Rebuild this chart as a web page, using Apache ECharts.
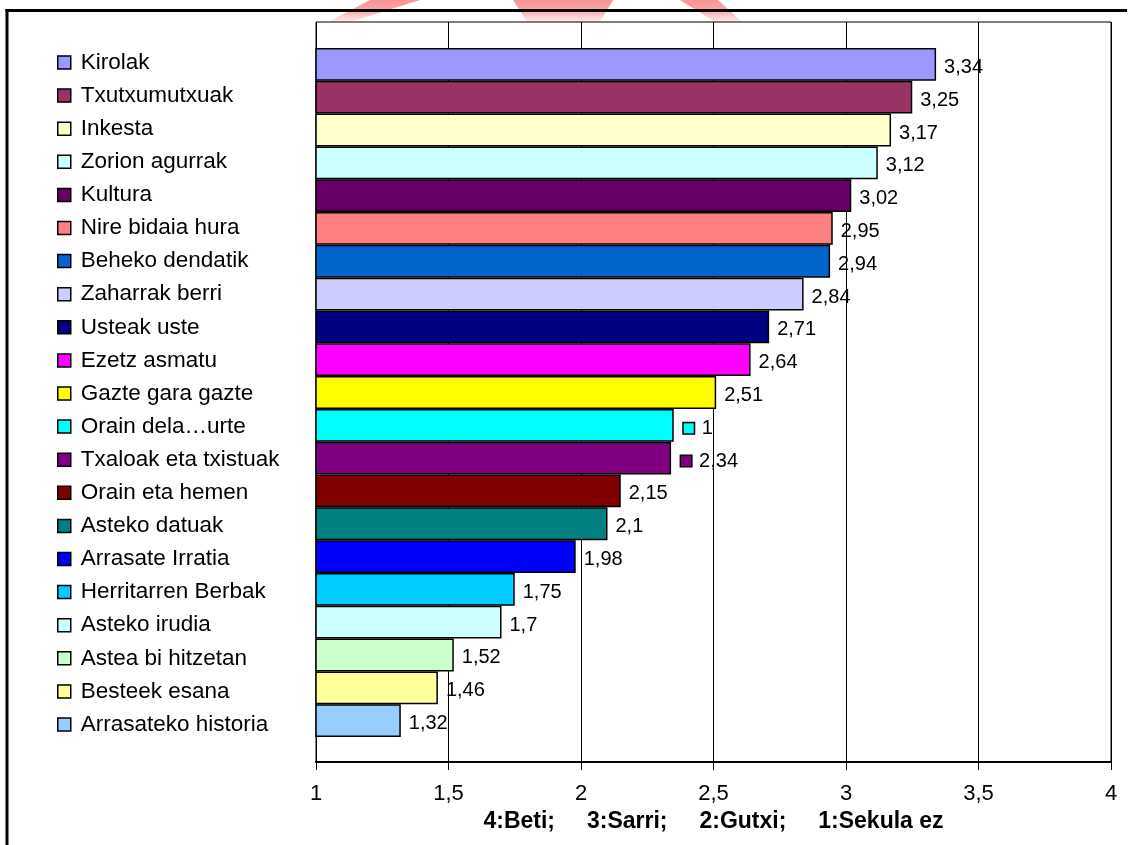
<!DOCTYPE html>
<html>
<head>
<meta charset="utf-8">
<script src="https://cdn.jsdelivr.net/npm/echarts@6/dist/echarts.min.js"></script>
</head>
<body style="margin:0;background:#fff">
<div id="container" style="width:1134px;height:845px"></div>
<script type="text/javascript">

var names = ['Kirolak', 'Txutxumutxuak', 'Inkesta', 'Zorion agurrak', 'Kultura', 'Nire bidaia hura',
  'Beheko dendatik', 'Zaharrak berri', 'Usteak uste', 'Ezetz asmatu', 'Gazte gara gazte',
  'Orain dela\u2026urte', 'Txaloak eta txistuak', 'Orain eta hemen', 'Asteko datuak',
  'Arrasate Irratia', 'Herritarren Berbak', 'Asteko irudia', 'Astea bi hitzetan',
  'Besteek esana', 'Arrasateko historia'];
var values = [3.34, 3.25, 3.17, 3.12, 3.02, 2.95, 2.94, 2.84, 2.71, 2.64, 2.51,
  2.35, 2.34, 2.15, 2.1, 1.98, 1.75, 1.7, 1.52, 1.46, 1.32];
// label text as printed on the chart (one shows "1" and two carry a legend key)
var labelText = ['3,34', '3,25', '3,17', '3,12', '3,02', '2,95', '2,94', '2,84', '2,71', '2,64', '2,51',
  '1', '2,34', '2,15', '2,1', '1,98', '1,75', '1,7', '1,52', '1,46', '1,32'];
var keyed = [11, 12];
var colors = ['#9999FF', '#993366', '#FFFFCC', '#CCFFFF', '#660066', '#FF8080', '#0066CC', '#CCCCFF',
  '#000080', '#FF00FF', '#FFFF00', '#00FFFF', '#800080', '#800000', '#008080', '#0000FF',
  '#00CCFF', '#CCFFFF', '#CCFFCC', '#FFFF99', '#99CCFF'];
var axisTitle = '4:Beti;     3:Sarri;     2:Gutxi;     1:Sekula ez';

var font = 'Liberation Sans, Arial, sans-serif';
var dom = document.getElementById('container');
var myChart = echarts.init(dom, null, {renderer: 'canvas'});

var series = names.map(function (n, i) {
  var data = names.map(function (m, j) { return j === i ? values[i] : '-'; });
  var isKeyed = keyed.indexOf(i) >= 0;
  return {
    name: n,
    type: 'bar',
    xAxisIndex: 1,
    yAxisIndex: 1,
    barGap: '-100%',
    barCategoryGap: '0%',
    data: data,
    itemStyle: {color: colors[i], borderColor: '#000', borderWidth: 1.5},
    label: {
      show: true,
      position: 'right',
      distance: isKeyed ? 10 : 8,
      offset: [0, 3],
      fontFamily: font,
      fontSize: 20,
      color: '#000',
      formatter: isKeyed ? '{k|}{t|' + labelText[i] + '}' : labelText[i],
      rich: {
        k: {width: 10, height: 10, backgroundColor: colors[i], borderColor: '#000', borderWidth: 1.5},
        t: {fontFamily: font, fontSize: 20, color: '#000', padding: [0, 0, 0, 8]}
      }
    }
  };
});

var wm = {
  type: 'linear', x: 0, y: 0, x2: 0, y2: 1,
  colorStops: [{offset: 0, color: 'rgba(248,110,110,0.75)'}, {offset: 0.5, color: 'rgba(248,110,110,0.6)'},
    {offset: 1, color: 'rgba(248,140,140,0.15)'}]
};

option = {
  animation: false,
  backgroundColor: '#fff',
  legend: {
    orient: 'vertical',
    left: 57,
    top: 51,
    padding: 0,
    itemWidth: 13,
    itemHeight: 13,
    itemGap: 10.1,
    icon: 'rect',
    data: names,
    itemStyle: {borderColor: '#000', borderWidth: 1.5},
    textStyle: {fontFamily: font, fontSize: 22.5, lineHeight: 23, color: '#000', padding: [0, 0, 0, 5]}
  },
  grid: [
    {left: 316, right: 23, top: 22, bottom: 83, show: true, borderColor: '#000', borderWidth: 1, backgroundColor: '#fff'},
    {left: 316, right: 23, top: 48, bottom: 108}
  ],
  xAxis: [{
    gridIndex: 0, type: 'value', min: 1, max: 4, interval: 0.5,
    axisLine: {show: true, lineStyle: {color: '#000', width: 2}},
    axisTick: {show: true, length: 8, lineStyle: {color: '#000', width: 1}},
    splitLine: {show: true, lineStyle: {color: '#000', width: 1}},
    axisLabel: {
      margin: 21, fontFamily: font, fontSize: 22, color: '#000',
      formatter: function (v) { return String(v).replace('.', ','); }
    },
    name: axisTitle,
    nameLocation: 'middle',
    nameGap: 36,
    nameTextStyle: {fontFamily: font, fontSize: 23, fontWeight: 'bold', color: '#000'}
  }, {
    gridIndex: 1, type: 'value', min: 1, max: 4, show: false
  }],
  yAxis: [{
    gridIndex: 0, type: 'value', show: false
  }, {
    gridIndex: 1, type: 'category', data: names, inverse: true, show: false
  }],
  graphic: [
    {type: 'polygon', z: -1, shape: {points: [[328, 22], [350, 22], [420, 0], [370, 0]]}, style: {fill: wm}},
    {type: 'polygon', z: -1, shape: {points: [[527, 22], [600, 22], [613, 0], [513, 0]]}, style: {fill: wm}},
    {type: 'polygon', z: -1, shape: {points: [[715, 22], [742, 22], [718, 0], [680, 0]]}, style: {fill: wm}},
    {type: 'line', z: 100, shape: {x1: 5.5, y1: 10.5, x2: 1127, y2: 10.5}, style: {stroke: '#000', lineWidth: 3}},
    {type: 'line', z: 100, shape: {x1: 7, y1: 9, x2: 7, y2: 845}, style: {stroke: '#000', lineWidth: 3}}
  ],
  series: series
};

myChart.setOption(option);

</script>
</body>
</html>
